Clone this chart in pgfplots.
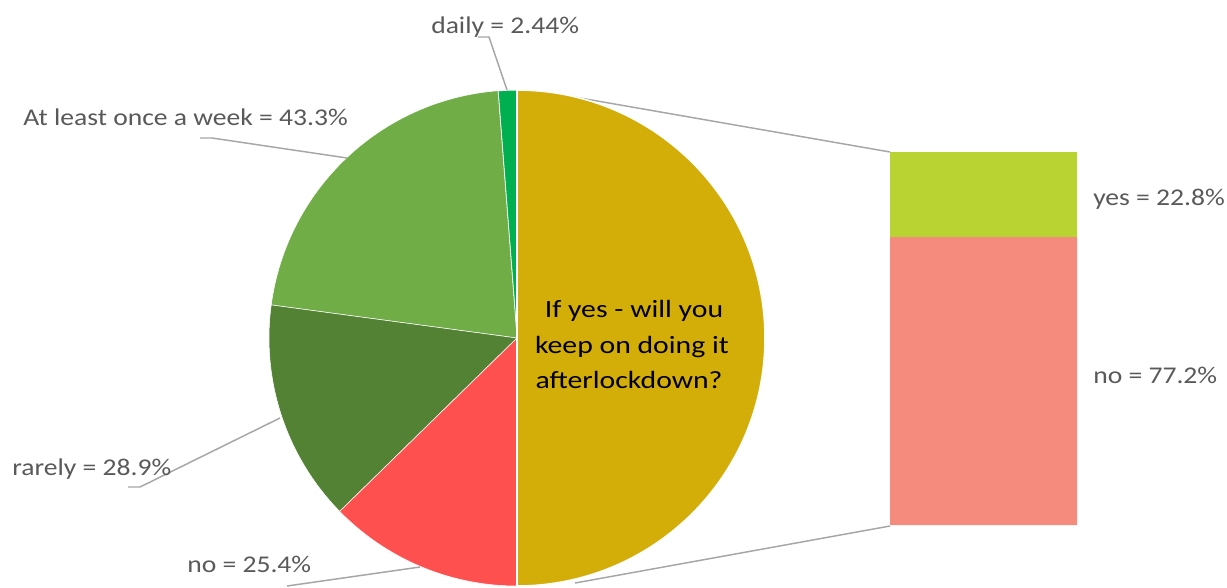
\documentclass[border=0pt]{standalone}
\usepackage{pgfplots}
\pgfplotsset{compat=1.18}
\usepackage{fontspec}
\setmainfont{Carlito}
\newfontfamily\labfont{Carlito}[FakeStretch=1.15]
\newfontfamily\ctrfont{Carlito}[FakeStretch=1.2]
\definecolor{cyellow}{RGB}{212,174,8}
\definecolor{cdaily}{RGB}{0,176,80}
\definecolor{cweek}{RGB}{112,173,71}
\definecolor{crare}{RGB}{84,130,53}
\definecolor{cno}{RGB}{255,80,80}
\definecolor{cyes}{RGB}{185,211,50}
\definecolor{cno2}{RGB}{245,139,125}
\definecolor{ctext}{RGB}{89,89,89}
\definecolor{cline}{RGB}{166,166,166}
% values
\def\vDaily{2.44}\def\vWeek{43.3}\def\vRare{28.9}\def\vNo{25.4}
\def\vYes{22.8}\def\vNoTwo{77.2}
\pgfmathsetmacro{\aA}{90}
\pgfmathsetmacro{\aB}{\aA+\vDaily*1.8}
\pgfmathsetmacro{\aC}{\aB+\vWeek*1.8}
\pgfmathsetmacro{\aD}{\aC+\vRare*1.8}
\pgfmathsetmacro{\aE}{270}
\pgfmathsetmacro{\R}{248*0.75}
\pgfmathsetmacro{\ySplit}{152+\vYes/100*373}
\begin{document}
\begin{tikzpicture}
\begin{axis}[width=920.25pt,height=440.25pt,scale only axis,
  xmin=0,xmax=1227,ymin=0,ymax=587,y dir=reverse,hide axis,clip=false]
% connector lines
\draw[cline,line width=1.1pt] (axis cs:560,94.5) -- (axis cs:890,152);
\draw[cline,line width=1.1pt] (axis cs:575,583) -- (axis cs:890,526);
% pie
\fill[cyellow,draw=white,line width=1.2pt] (axis cs:517,338) -- ++(-90:\R pt) arc[start angle=-90,end angle=90,radius=\R pt] -- cycle;
\fill[cdaily,draw=white,line width=0.8pt] (axis cs:517,338) -- ++(\aA:\R pt) arc[start angle=\aA,end angle=\aB,radius=\R pt] -- cycle;
\fill[cweek,draw=white,line width=0.4pt] (axis cs:517,338) -- ++(\aB:\R pt) arc[start angle=\aB,end angle=\aC,radius=\R pt] -- cycle;
\fill[crare,draw=white,line width=0.4pt] (axis cs:517,338) -- ++(\aC:\R pt) arc[start angle=\aC,end angle=\aD,radius=\R pt] -- cycle;
\fill[cno,draw=white,line width=0.4pt] (axis cs:517,338) -- ++(\aD:\R pt) arc[start angle=\aD,end angle=\aE,radius=\R pt] -- cycle;
\draw[white,line width=1.5pt] (axis cs:517,338) -- ++(90:\R pt);
\draw[white,line width=1.5pt] (axis cs:517,338) -- ++(-90:\R pt);
% bar
\addplot[fill=cyes,draw=none] coordinates {(890,152) (1077,152) (1077,\ySplit) (890,\ySplit) (890,152)};
\addplot[fill=cno2,draw=none] coordinates {(890,\ySplit) (1077,\ySplit) (1077,525) (890,525) (890,\ySplit)};
% leader lines
\draw[cline,line width=1.1pt] (axis cs:478,37) -- (axis cs:489,37) -- (axis cs:507,90);
\draw[cline,line width=1.1pt] (axis cs:200,138) -- (axis cs:212,138) -- (axis cs:347,158);
\draw[cline,line width=1.1pt] (axis cs:128,487) -- (axis cs:140,487) -- (axis cs:280,418);
\draw[cline,line width=1.1pt] (axis cs:287,586) -- (axis cs:420,567);
% labels
\begin{scope}[every node/.style={inner sep=0pt,text=ctext,font=\labfont\fontsize{18}{21}\selectfont}]
\node[anchor=base west] at (axis cs:431,33) {daily = 2.44\%};
\node[anchor=base west] at (axis cs:23,125) {At least once a week = 43.3\%};
\node[anchor=base west] at (axis cs:12,475) {rarely = 28.9\%};
\node[anchor=base west] at (axis cs:187,572) {no = 25.4\%};
\node[anchor=base west] at (axis cs:1093,205) {yes = 22.8\%};
\node[anchor=base west] at (axis cs:1093,383) {no = 77.2\%};
\end{scope}
\begin{scope}[every node/.style={inner sep=0pt,text=black,font=\ctrfont\fontsize{18.6}{22}\selectfont,anchor=base}]
\node at (axis cs:634,317) {If yes - will you};
\node at (axis cs:632,353) {keep on doing it};
\node at (axis cs:629,388) {afterlockdown?};
\end{scope}
\end{axis}
\pgfresetboundingbox
\path[use as bounding box] (current axis.south west) rectangle (current axis.north east);
\end{tikzpicture}
\end{document}
